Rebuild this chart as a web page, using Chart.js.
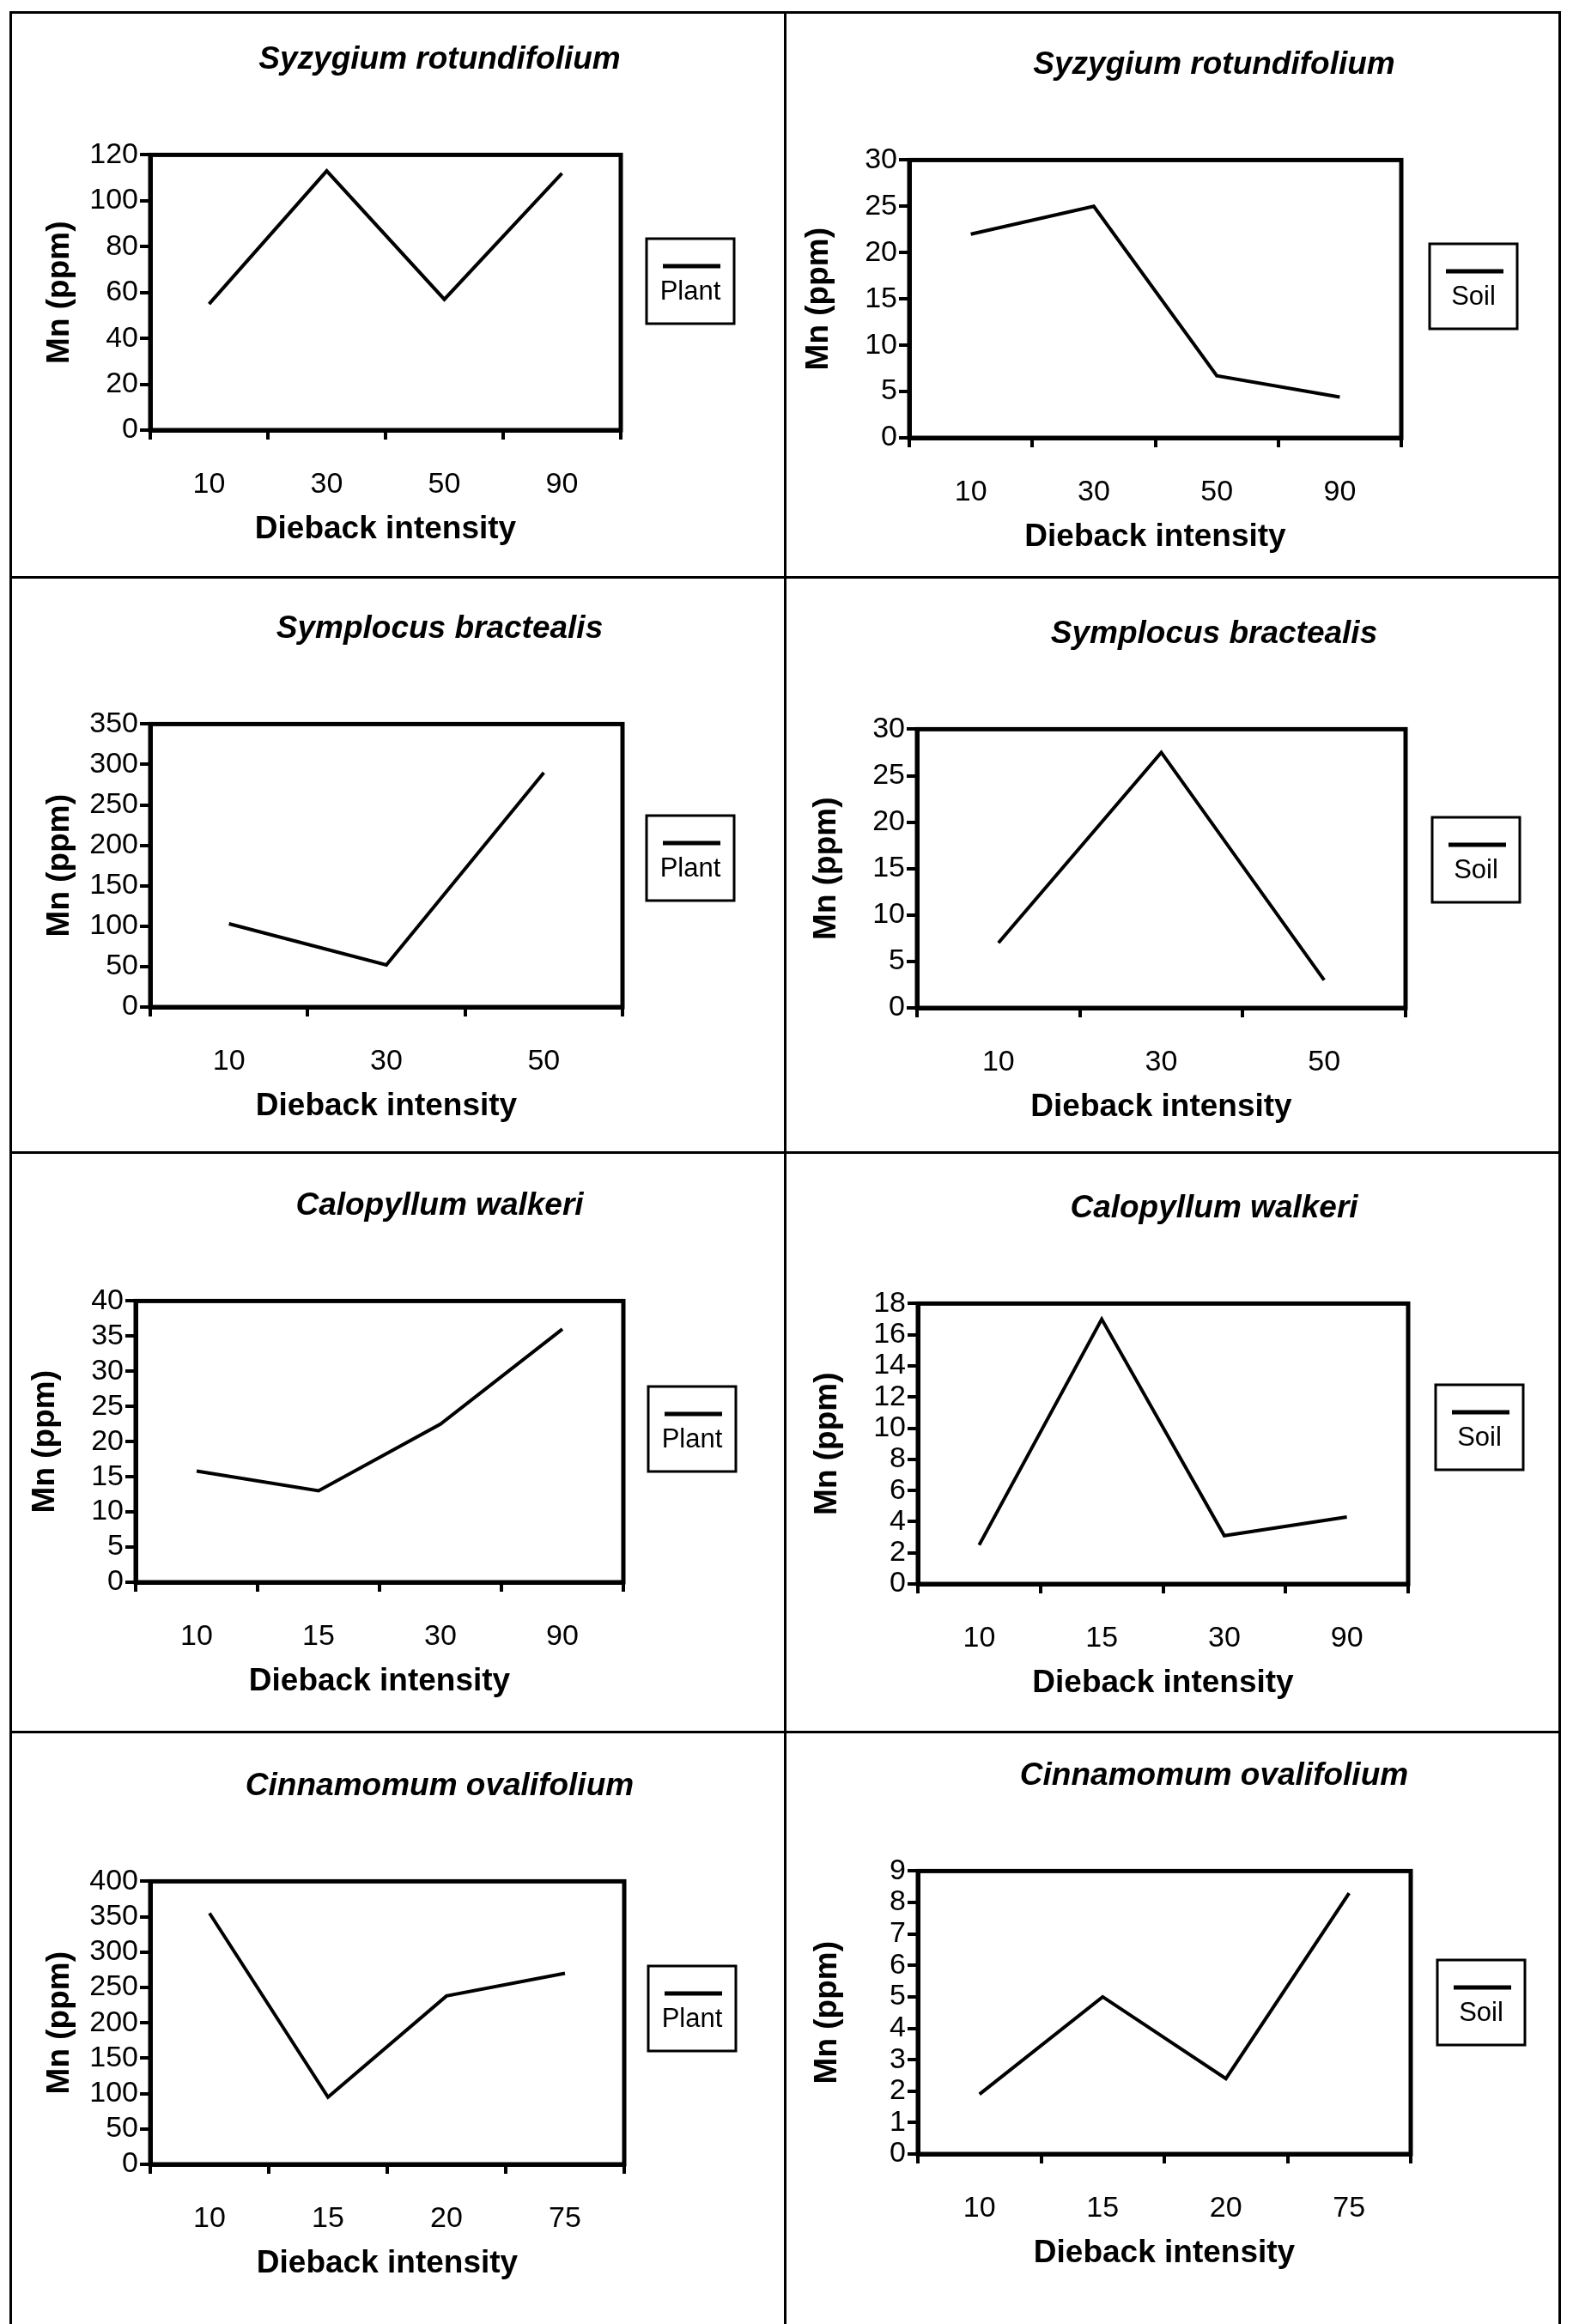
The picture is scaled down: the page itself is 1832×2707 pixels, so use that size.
<!DOCTYPE html>
<html>
<head>
<meta charset="utf-8">
<script src="https://cdn.jsdelivr.net/npm/chart.js@4.4.1/dist/chart.umd.min.js"></script>
<style>
  html, body { margin: 0; padding: 0; background: #fff; }
  body { width: 1832px; height: 2707px; position: relative; overflow: hidden; }
  .cell { position: absolute; overflow: hidden; }
  .cell canvas { position: absolute; left: 0; top: 0; }
  .rule { position: absolute; background: #000; }
</style>
</head>
<body>
<script>
// data
const speciesNames = ["Syzygium rotundifolium", "Symplocus bractealis", "Calopyllum walkeri", "Cinnamomum ovalifolium"];
const intensitySyzygium = ["10", "30", "50", "90"];
const intensitySymplocus = ["10", "30", "50"];
const intensityCalopyllum = ["10", "15", "30", "90"];
const intensityCinnamomum = ["10", "15", "20", "75"];

const plantSyzygium = [55, 113, 57, 112];
const soilSyzygium = [22, 25, 6.7, 4.4];
const plantSymplocus = [103, 52, 290];
const soilSymplocus = [7, 27.5, 3];
const plantCalopyllum = [15.8, 13, 22.5, 36];
const soilCalopyllum = [2.5, 17, 3.1, 4.3];
const plantCinnamomum = [355, 95, 238, 270];
const soilCinnamomum = [1.9, 5, 2.4, 8.3];

const plantAxisMax = [120, 350, 40, 400];
const plantAxisStep = [20, 50, 5, 50];
const soilAxisMax = [30, 30, 18, 9];
const soilAxisStep = [5, 5, 2, 1];

// page layout (pixels)
const FONT = "'Liberation Sans', Arial, Helvetica, sans-serif";
const W = 1000, H = 700;
const colX = [12, 914, 1816];
const rowY = [14, 672, 1342, 2017, 2707];
// per panel: plot left, top, right, bottom, legend left, legend top (relative to its cell)
const frames = [
  [163, 166, 711, 487, 741, 264], [145, 172, 718, 496, 751, 270],
  [163, 171, 713, 501, 741, 278], [154, 177, 723, 502, 754, 280],
  [146, 173, 714, 501, 743, 273], [155, 176, 726, 503, 758, 271],
  [163, 174, 715, 504, 743, 273], [155, 162, 729, 492, 760, 266],
];

Chart.defaults.font.family = FONT;
Chart.defaults.color = "#000";

const legendBox = {
  id: "legendBox",
  afterDraw(chart, args, opts) {
    const ctx = chart.ctx;
    const ds = chart.data.datasets[0];
    ctx.save();
    ctx.strokeStyle = "#000";
    ctx.lineWidth = 3;
    ctx.strokeRect(opts.left, opts.top, 102, 99);
    ctx.lineWidth = 5;
    ctx.beginPath();
    ctx.moveTo(opts.left + 19, opts.top + 32);
    ctx.lineTo(opts.left + 86, opts.top + 32);
    ctx.strokeStyle = ds.borderColor;
    ctx.stroke();
    ctx.fillStyle = "#000";
    ctx.font = "31px " + FONT;
    ctx.textAlign = "center";
    ctx.textBaseline = "middle";
    ctx.fillText(ds.label, opts.left + 51, opts.top + 62);
    ctx.restore();
  },
};

const plotFrame = {
  id: "plotFrame",
  beforeDatasetsDraw(chart) {
    const { left, top, right, bottom } = chart.chartArea;
    const ctx = chart.ctx;
    ctx.save();
    ctx.strokeStyle = "#000";
    ctx.lineWidth = 5;
    ctx.strokeRect(left, top, right - left, bottom - top);
    ctx.restore();
  },
};

function makeChart(canvas, title, cats, values, label, yMax, yStep, f) {
  const [pl, pt, pr, pb, lx, ly] = f;
  return new Chart(canvas, {
    type: "line",
    data: {
      labels: cats,
      datasets: [{
        label: label,
        data: values,
        yAxisID: "y",
        borderColor: "#000",
        borderWidth: 4,
        pointRadius: 0,
        tension: 0,
        fill: false,
      }],
    },
    options: {
      responsive: false,
      animation: false,
      layout: { padding: 0 },
      scales: {
        x: {
          type: "category",
          offset: true,
          grid: { offset: true, drawOnChartArea: false, color: "#000", lineWidth: 4, tickLength: 11 },
          border: { color: "#000", width: 5 },
          ticks: { font: { size: 34 }, color: "#000", padding: 32, maxRotation: 0 },
          title: {
            display: true,
            text: "Dieback intensity",
            color: "#000",
            font: { size: 37, weight: "bold" },
            padding: { top: 0, bottom: H - (pb + 116) - 22 },
          },
          afterFit: (s) => { s.height = H - pb; },
        },
        y: {
          type: "linear",
          position: "left",
          min: 0,
          max: yMax,
          grid: { drawOnChartArea: false, color: "#000", lineWidth: 4, tickLength: 12 },
          border: { color: "#000", width: 5 },
          ticks: { stepSize: yStep, autoSkip: false, font: { size: 34 }, color: "#000", padding: 2 },
          title: {
            display: true,
            text: "Mn (ppm)",
            color: "#000",
            font: { size: 37, weight: "bold" },
            padding: { top: pl - 105 - 22, bottom: 0 },
          },
          afterFit: (s) => { s.width = pl; },
        },
        pad: {
          type: "linear",
          position: "right",
          display: true,
          grid: { display: false },
          border: { display: false },
          ticks: { display: false },
          afterFit: (s) => { s.width = W - pr; },
        },
      },
      plugins: {
        legend: { display: false },
        tooltip: { enabled: false },
        title: {
          display: true,
          text: title,
          color: "#000",
          font: { size: 37, weight: "bold", style: "italic" },
          padding: { top: pt - 132, bottom: 88 },
        },
        legendBox: { left: lx, top: ly },
      },
    },
    plugins: [plotFrame, legendBox],
  });
}

const panels = [
  [speciesNames[0], intensitySyzygium, plantSyzygium, "Plant", plantAxisMax[0], plantAxisStep[0]],
  [speciesNames[0], intensitySyzygium, soilSyzygium, "Soil", soilAxisMax[0], soilAxisStep[0]],
  [speciesNames[1], intensitySymplocus, plantSymplocus, "Plant", plantAxisMax[1], plantAxisStep[1]],
  [speciesNames[1], intensitySymplocus, soilSymplocus, "Soil", soilAxisMax[1], soilAxisStep[1]],
  [speciesNames[2], intensityCalopyllum, plantCalopyllum, "Plant", plantAxisMax[2], plantAxisStep[2]],
  [speciesNames[2], intensityCalopyllum, soilCalopyllum, "Soil", soilAxisMax[2], soilAxisStep[2]],
  [speciesNames[3], intensityCinnamomum, plantCinnamomum, "Plant", plantAxisMax[3], plantAxisStep[3]],
  [speciesNames[3], intensityCinnamomum, soilCinnamomum, "Soil", soilAxisMax[3], soilAxisStep[3]],
];

panels.forEach((p, i) => {
  const col = i % 2, row = Math.floor(i / 2);
  const cell = document.createElement("div");
  cell.className = "cell";
  cell.style.left = colX[col] + "px";
  cell.style.top = rowY[row] + "px";
  cell.style.width = (colX[col + 1] - colX[col]) + "px";
  cell.style.height = (rowY[row + 1] - rowY[row]) + "px";
  const canvas = document.createElement("canvas");
  canvas.width = W;
  canvas.height = H;
  cell.appendChild(canvas);
  document.body.appendChild(cell);
  makeChart(canvas, p[0], p[1], p[2], p[3], p[4], p[5], frames[i]);
});

// table rules
function rule(x, y, w, h) {
  const d = document.createElement("div");
  d.className = "rule";
  d.style.left = x + "px"; d.style.top = y + "px";
  d.style.width = w + "px"; d.style.height = h + "px";
  document.body.appendChild(d);
}
colX.forEach((x) => rule(x - 1, rowY[0] - 1, 3, rowY[4] - rowY[0] + 2));
rowY.slice(0, 4).forEach((y) => rule(colX[0] - 1, y - 1, colX[2] - colX[0] + 3, 3));
</script>
</body>
</html>
